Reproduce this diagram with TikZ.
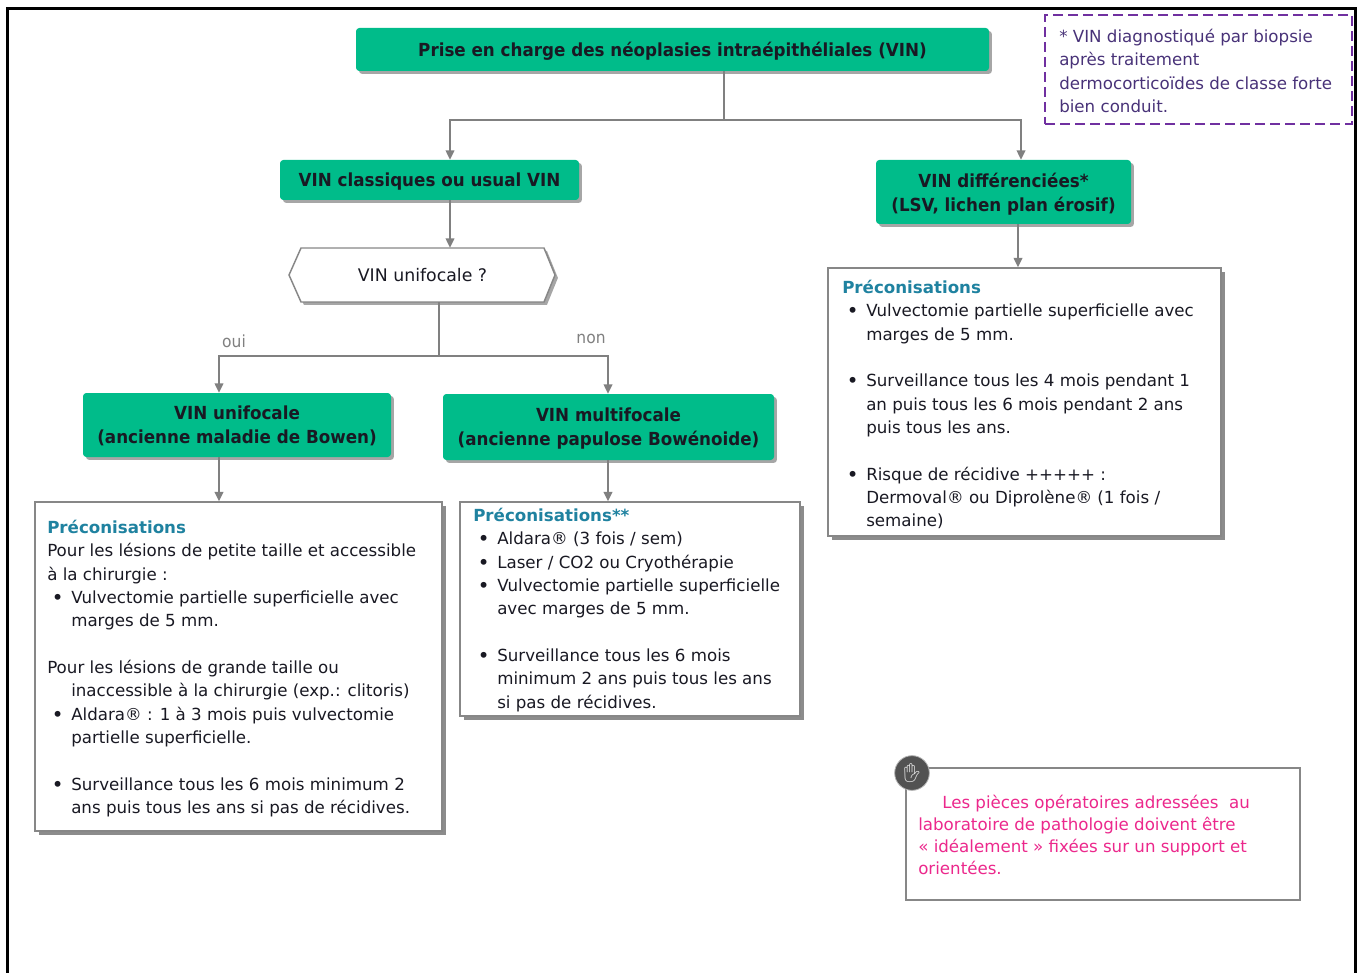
\documentclass[tikz,border=0pt]{standalone}
\usepackage{fontspec}
\setmainfont{DejaVu Sans}
\newfontfamily\tfont[FakeStretch=0.93]{DejaVu Sans}
\newfontfamily\emojifont{Noto Emoji}
\usetikzlibrary{arrows.meta,shadows,fit,calc}
\definecolor{vgreen}{RGB}{0,188,138}
\definecolor{lncol}{RGB}{128,128,128}
\definecolor{bordcol}{RGB}{135,135,135}
\definecolor{ptcol}{RGB}{31,130,160}
\definecolor{txtcol}{RGB}{25,25,35}
\definecolor{fncol}{RGB}{72,50,120}
\definecolor{dashcol}{RGB}{112,48,160}
\definecolor{pinkcol}{RGB}{236,40,140}
\newcommand\bul{\hspace*{3.75pt}\makebox[14.25pt][l]{\textbf{•}}}
\newcommand\ind{\hspace*{18pt}}
\newcommand\ptitle[1]{\textcolor{ptcol}{\bfseries #1}}
\begin{document}
\begin{tikzpicture}[x=0.75pt,y=-0.75pt,
  sz/.style 2 args={minimum width=#1*0.75pt, minimum height=#2*0.75pt},
  greenbox/.style={fill=vgreen, rounded corners=2.5pt, inner sep=0pt, text depth=0pt,
    drop shadow={shadow xshift=2.2pt, shadow yshift=-2.2pt, opacity=0.35, fill=black},
    font=\tfont\bfseries\fontsize{13.5pt}{18pt}\selectfont, text=txtcol, align=center},
  precobox/.style={draw=bordcol, line width=1.1pt, fill=white, inner sep=0pt,
    drop shadow={shadow xshift=3pt, shadow yshift=-3pt, opacity=0.45, fill=black}},
  bodytxt/.style={font=\fontsize{12.5pt}{17.5pt}\selectfont, align=left,
    anchor=north west, inner sep=0pt, text=txtcol},
  conn/.style={draw=lncol, line width=1.1pt},
  arr/.style={conn, -{Triangle[length=7pt,width=6.5pt]}},
  lbl/.style={font=\tfont\fontsize{12.5pt}{15pt}\selectfont, text=lncol, inner sep=0pt}
]
\useasboundingbox (0,0) rectangle (1359,973);
% outer frame
\draw[line width=2.25pt, black] (7,973) -- (7,9) -- (1355,9) -- (1355,973);

% green boxes
\node[greenbox, sz={633}{43}] (top) at (672.5,49.5) {Prise en charge des néoplasies intraépithéliales (VIN)};
\node[greenbox, sz={299}{40}] (classic) at (429.5,180) {VIN classiques ou usual VIN};
\node[greenbox, sz={255}{64}] (diff) at (1003.5,192) {VIN différenciées*\\(LSV, lichen plan érosif)};
\node[greenbox, sz={308}{64}] (unif) at (237,425) {VIN unifocale\\(ancienne maladie de Bowen)};
\node[greenbox, sz={331}{66}] (multi) at (608.5,427) {VIN multifocale\\(ancienne papulose Bowénoide)};

% hexagon decision
\path[draw=bordcol, line width=1.1pt, fill=white,
  drop shadow={shadow xshift=2.2pt, shadow yshift=-2.2pt, opacity=0.35, fill=black}]
  (289,275) -- (301,248) -- (544,248) -- (555,275) -- (544,302) -- (301,302) -- cycle;
\node[inner sep=0pt, sz={243}{54}, text depth=0pt, font=\fontsize{13pt}{16pt}\selectfont, text=txtcol] (hex) at (422.5,275) {VIN unifocale ?};

% recommendation boxes
\node[precobox, fit={(35,502) (442,831)}] (preco1) {};
\node[precobox, fit={(460,502) (800,716)}] (preco2) {};
\node[precobox, fit={(828,268) (1221,536)}] (preco3) {};

\node[bodytxt] (p1txt) at (47,520) {\ptitle{Préconisations}\\
Pour les lésions de petite taille et accessible\\
à la chirurgie :\\
\bul Vulvectomie partielle superficielle avec\\
\ind marges de 5 mm.\\[17.5pt]
Pour les lésions de grande taille ou\\
\ind inaccessible à la chirurgie (exp.: clitoris)\\
\bul Aldara® : 1 à 3 mois puis vulvectomie\\
\ind partielle superficielle.\\[17.5pt]
\bul Surveillance tous les 6 mois minimum 2\\
\ind ans puis tous les ans si pas de récidives.};

\node[bodytxt] (p2txt) at (473,508) {\ptitle{Préconisations**}\\
\bul Aldara® (3 fois / sem)\\
\bul Laser / CO2 ou Cryothérapie\\
\bul Vulvectomie partielle superficielle\\
\ind avec marges de 5 mm.\\[17.5pt]
\bul Surveillance tous les 6 mois\\
\ind minimum 2 ans puis tous les ans\\
\ind si pas de récidives.};

\node[bodytxt] (p3txt) at (842,280) {\ptitle{Préconisations}\\
\bul Vulvectomie partielle superficielle avec\\
\ind marges de 5 mm.\\[17.5pt]
\bul Surveillance tous les 4 mois pendant 1\\
\ind an puis tous les 6 mois pendant 2 ans\\
\ind puis tous les ans.\\[17.5pt]
\bul Risque de récidive +++++ :\\
\ind Dermoval® ou Diprolène® (1 fois /\\
\ind semaine)};

% footnote
\node[draw=dashcol, line width=1.5pt, dash pattern=on 7.5pt off 3.75pt, inner sep=0pt,
  fit={(1045,15) (1352,124)}] (fnbox) {};
\node[bodytxt, text=fncol] (fntxt) at (1059,29) {* VIN diagnostiqué par biopsie\\
après traitement\\
dermocorticoïdes de classe forte\\
bien conduit.};

% pink note
\node[draw=bordcol, line width=1pt, fill=white, inner sep=0pt, fit={(906,768) (1300,900)}] (note) {};
\node[bodytxt, text=pinkcol, font=\fontsize{12.5pt}{16.5pt}\selectfont] (notetxt) at (918,795)
  {\hspace*{18pt}Les pièces opératoires adressées\ \ au\\
laboratoire de pathologie doivent être\\
« idéalement » fixées sur un support et\\
orientées.};
\node[circle, draw=gray!60, line width=0.6pt, fill=black!68, minimum size=26pt, inner sep=0pt,
  text=white!80!gray, font=\emojifont\fontsize{14pt}{14pt}\selectfont] (icon) at (912,773) {✋};

% connectors
\coordinate (j1) at (724,120);
\coordinate (a1) at (450,120);
\coordinate (a2) at (1021,120);
\draw[conn] (top.south -| j1) -- (j1);
\draw[arr] (j1) -- (a1) -- (a1 |- classic.north);
\draw[arr] (j1) -- (a2) -- (a2 |- diff.north);
\draw[arr] (classic.south -| a1) -- (hex.north -| a1);
\coordinate (j2) at (439,356);
\coordinate (b1) at (219,356);
\coordinate (b2) at (608,356);
\draw[conn] (hex.south -| j2) -- (j2);
\draw[arr] (j2) -- (b1) -- (b1 |- unif.north);
\draw[arr] (j2) -- (b2) -- (b2 |- multi.north);
\draw[arr] (unif.south -| b1) -- (preco1.north -| b1);
\draw[arr] (multi.south -| b2) -- (preco2.north -| b2);
\coordinate (d1) at (1018,245);
\draw[arr] (diff.south -| d1) -- (preco3.north -| d1);

\node[lbl] (oui) at (234,341) {oui};
\node[lbl] (non) at (591,339) {non};
\end{tikzpicture}
\end{document}
